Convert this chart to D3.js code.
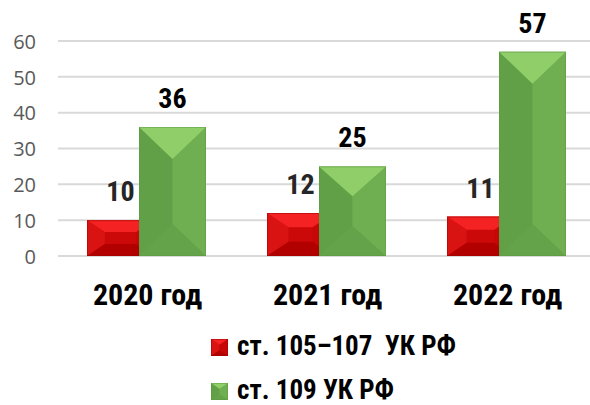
<!DOCTYPE html>
<html><head><meta charset="utf-8">
<script src="https://cdn.jsdelivr.net/npm/d3@7"></script>
<style>
html,body{margin:0;padding:0;background:#fff;}
svg{display:block;}
.narrow{font-family:"Liberation Sans Narrow","Arial Narrow","Roboto Condensed",sans-serif;font-weight:bold;}
</style></head>
<body>
<svg id="chart" width="590" height="405"></svg>
<script>
const categories = ["2020 год", "2021 год", "2022 год"];
const seriesNames = ["ст. 105–107  УК РФ", "ст. 109 УК РФ"];
const seriesA = [10, 12, 11];
const seriesB = [36, 25, 57];
const yTicks = [0, 10, 20, 30, 40, 50, 60];

const svg = d3.select("#chart");
const x = d3.scaleBand().domain(categories).range([56.5, 596.5]).padding(0);
const y = d3.scaleLinear().domain([0, 60]).range([256, 41]);

const barW = 67, step = 52, groupW = step + barW;

// gridlines
svg.append("g").selectAll("line").data(yTicks).join("line")
  .attr("x1", 58).attr("x2", 590)
  .attr("y1", d => y(d)).attr("y2", d => y(d))
  .attr("stroke", "#d9d9d9").attr("stroke-width", 2);

// y axis labels
const yAxis = d3.axisLeft(y).tickValues(yTicks).tickSize(0).tickPadding(0);
const ya = svg.append("g").attr("transform", "translate(36,0)").call(yAxis);
ya.select(".domain").remove();
ya.selectAll("text").attr("font-family", "'Open Sans','Noto Sans',sans-serif")
  .attr("font-size", 20).attr("fill", "#595959").attr("dy", "0.36em");

const palettes = [
  {top:"#f42222", left:"#d91212", center:"#cb0909", right:"#c60707", bottom:"#b20000", stroke:"#a00000", label:"#262626"},
  {top:"#90ce69", left:"#62a047", center:"#69a94c", right:"#6fae51", bottom:"#64a349", stroke:"#5c9a42", label:"#000000"}
];

function bevel(g, bx, by, w, h, pal, maxD) {
  const dy = Math.min(maxD, h / 3);
  const dx = Math.min(w / 2, dy * 1.5);
  const P = pts => pts.map(p => p.join(",")).join(" ");
  g.append("rect").attr("x", bx).attr("y", by).attr("width", w).attr("height", h).attr("fill", pal.center);
  g.append("polygon").attr("points", P([[bx,by],[bx+dx,by+dy],[bx+dx,by+h-dy],[bx,by+h]])).attr("fill", pal.left);
  g.append("polygon").attr("points", P([[bx+w,by],[bx+w-dx,by+dy],[bx+w-dx,by+h-dy],[bx+w,by+h]])).attr("fill", pal.right);
  g.append("polygon").attr("points", P([[bx,by+h],[bx+w,by+h],[bx+w-dx,by+h-dy],[bx+dx,by+h-dy]])).attr("fill", pal.bottom);
  g.append("polygon").attr("points", P([[bx,by],[bx+w,by],[bx+w-dx,by+dy],[bx+dx,by+dy]])).attr("fill", pal.top);
  g.append("rect").attr("x", bx + 0.5).attr("y", by + 0.5).attr("width", w - 1).attr("height", h - 1)
    .attr("fill", "none").attr("stroke", pal.stroke).attr("stroke-opacity", 0.5).attr("stroke-width", 1);
}

const bars = svg.append("g");
[seriesA, seriesB].forEach((vals, si) => {
  vals.forEach((v, i) => {
    const gx = x(categories[i]) + (x.bandwidth() - groupW) / 2 + si * step;
    const g = bars.append("g");
    bevel(g, gx, y(v), barW, y(0) - y(v), palettes[si], 32);
  });
});

// data labels
[seriesA, seriesB].forEach((vals, si) => {
  svg.append("g").selectAll("text").data(vals).join("text")
    .attr("class", "narrow")
    .attr("x", (v, i) => x(categories[i]) + (x.bandwidth() - groupW) / 2 + si * step + barW / 2)
    .attr("y", v => y(v) - 19)
    .attr("text-anchor", "middle").attr("font-size", 28)
    .attr("fill", palettes[si].label)
    .text(v => v);
});

// x axis labels
const xAxis = d3.axisBottom(x).tickSize(0).tickPadding(0);
const xa = svg.append("g").attr("transform", "translate(0,305)").call(xAxis);
xa.select(".domain").remove();
xa.selectAll("text").attr("class", "narrow").attr("font-size", 30).attr("fill", "#000")
  .attr("dy", 0).attr("font-family", null).attr("dx", 1);

// legend
const leg = svg.append("g");
seriesNames.forEach((name, si) => {
  const ly = 355 + si * 44;
  const g = leg.append("g");
  bevel(g, 211, ly - 16, 17, 17, palettes[si], 6);
  g.append("text").attr("class", "narrow").attr("x", 237).attr("y", ly)
    .attr("font-size", 27).attr("fill", "#000").style("white-space", "pre").text(name);
});
</script>
</body></html>
